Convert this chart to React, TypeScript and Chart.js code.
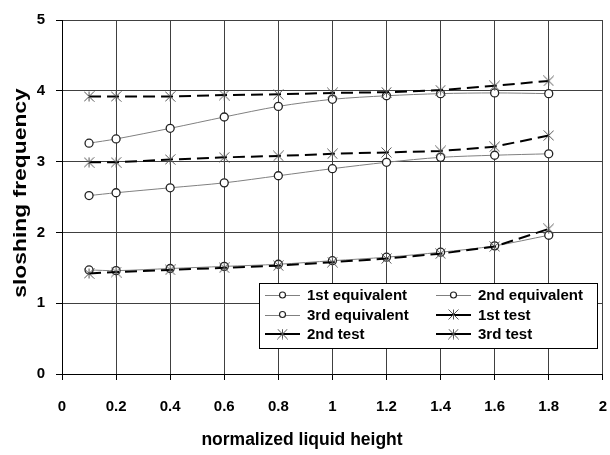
import { useEffect, useRef } from 'react';
import { Chart, registerables } from 'chart.js';
Chart.register(...registerables);

const heights = [0.1, 0.2, 0.4, 0.6, 0.8, 1.0, 1.2, 1.4, 1.6, 1.8];
const equivalent1 = [1.47, 1.46, 1.49, 1.52, 1.55, 1.60, 1.65, 1.72, 1.81, 1.96];
const equivalent2 = [2.52, 2.56, 2.63, 2.70, 2.80, 2.90, 2.99, 3.06, 3.09, 3.11];
const equivalent3 = [3.26, 3.32, 3.47, 3.63, 3.78, 3.88, 3.93, 3.96, 3.97, 3.96];
const test1 = [1.42, 1.44, 1.47, 1.50, 1.53, 1.58, 1.63, 1.70, 1.80, 2.05];
const test2 = [2.99, 2.99, 3.03, 3.06, 3.08, 3.11, 3.13, 3.15, 3.21, 3.37];
const test3 = [3.92, 3.92, 3.92, 3.94, 3.95, 3.97, 3.98, 4.01, 4.07, 4.14];
const seriesLabels = ['1st equivalent', '2nd equivalent', '3rd equivalent', '1st test', '2nd test', '3rd test'];
const xTickValues = [0, 0.2, 0.4, 0.6, 0.8, 1, 1.2, 1.4, 1.6, 1.8, 2];
const yTickValues = [0, 1, 2, 3, 4, 5];
const xTitle = 'normalized liquid height';
const yTitle = 'sloshing frequency';

const FONT = '"Liberation Sans", Arial, sans-serif';

function makeStar(color: string, size: number) {
  const c = document.createElement('canvas');
  c.width = size;
  c.height = size;
  const g = c.getContext('2d')!;
  g.strokeStyle = color;
  g.lineWidth = 1;
  const m = size / 2;
  const r = size / 2 - 0.5;
  g.beginPath();
  g.moveTo(m, m - r);
  g.lineTo(m, m + r);
  g.moveTo(m - r, m - r);
  g.lineTo(m + r, m + r);
  g.moveTo(m + r, m - r);
  g.lineTo(m - r, m + r);
  g.stroke();
  return c;
}

function toPoints(ys: number[]) {
  return heights.map((x, i) => ({ x, y: ys[i] }));
}

export default function App() {
  const ref = useRef<HTMLCanvasElement>(null);

  useEffect(() => {
    document.body.style.margin = '0';
    document.body.style.overflow = 'hidden';
    const canvas = ref.current!;
    const star = makeStar('#555', 11);

    const eqStyle = (ys: number[], label: string) => ({
      label,
      data: toPoints(ys),
      borderColor: '#808080',
      borderWidth: 1,
      tension: 0.3,
      pointStyle: 'circle' as const,
      pointRadius: 4,
      pointBorderWidth: 1.3,
      pointBorderColor: '#222',
      pointBackgroundColor: '#fff',
      order: 2,
    });
    const testStyle = (ys: number[], label: string) => ({
      label,
      data: toPoints(ys),
      borderColor: '#000',
      borderWidth: 2,
      borderDash: [12, 6],
      tension: 0,
      pointStyle: star as any,
      pointRadius: 5,
      order: 1,
    });

    const datasets = [
      eqStyle(equivalent1, seriesLabels[0]),
      eqStyle(equivalent2, seriesLabels[1]),
      eqStyle(equivalent3, seriesLabels[2]),
      testStyle(test1, seriesLabels[3]),
      testStyle(test2, seriesLabels[4]),
      testStyle(test3, seriesLabels[5]),
    ];

    const legendPlugin = {
      id: 'customLegend',
      afterDraw(chart: any) {
        const ctx = chart.ctx as CanvasRenderingContext2D;
        ctx.save();
        const bx = 259, by = 283, bw = 338, bh = 65;
        ctx.fillStyle = '#fff';
        ctx.fillRect(bx, by, bw, bh);
        ctx.strokeStyle = '#000';
        ctx.lineWidth = 1;
        ctx.strokeRect(bx + 0.5, by + 0.5, bw, bh);
        ctx.font = `bold 15px ${FONT}`;
        ctx.textBaseline = 'middle';
        ctx.textAlign = 'left';
        const ds = chart.data.datasets;
        ds.forEach((d: any, i: number) => {
          const col = i % 2;
          const row = Math.floor(i / 2);
          const cy = 295 + row * 19.5;
          const lx0 = col === 0 ? 265 : 436;
          const lx1 = lx0 + 35;
          ctx.beginPath();
          ctx.setLineDash([]);
          ctx.strokeStyle = d.borderColor;
          ctx.lineWidth = d.borderWidth;
          ctx.moveTo(lx0, Math.round(cy) + (d.borderWidth === 1 ? 0.5 : 0));
          ctx.lineTo(lx1, Math.round(cy) + (d.borderWidth === 1 ? 0.5 : 0));
          ctx.stroke();
          const mx = (lx0 + lx1) / 2;
          if (d.pointStyle === 'circle') {
            ctx.beginPath();
            ctx.arc(mx, cy, 3, 0, Math.PI * 2);
            ctx.fillStyle = '#fff';
            ctx.fill();
            ctx.strokeStyle = '#222';
            ctx.lineWidth = 1.2;
            ctx.stroke();
          } else {
            ctx.drawImage(d.pointStyle, mx - 5.5, cy - 5.5);
          }
          ctx.fillStyle = '#000';
          ctx.fillText(d.label, lx1 + 7, cy + 1);
        });
        // axis titles
        ctx.fillStyle = '#000';
        ctx.font = `bold 17.5px ${FONT}`;
        ctx.textAlign = 'center';
        ctx.textBaseline = 'middle';
        ctx.fillText(xTitle, 302, 440);
        ctx.translate(21, 193);
        ctx.rotate(-Math.PI / 2);
        ctx.scale(1.27, 1);
        ctx.font = `bold 18px ${FONT}`;
        ctx.fillText(yTitle, 0, 0);
        ctx.restore();
      },
    };

    const chart = new Chart(canvas, {
      type: 'line',
      data: { datasets: datasets as any },
      options: {
        animation: false,
        responsive: false,
        devicePixelRatio: 1,
        layout: { padding: { top: 13, right: 17, left: 0, bottom: 0 } },
        plugins: { legend: { display: false }, tooltip: { enabled: false } },
        scales: {
          x: {
            type: 'linear',
            min: 0,
            max: 2,
            afterBuildTicks: (s: any) => {
              s.ticks = xTickValues.map((v) => ({ value: v }));
            },
            afterFit: (s: any) => {
              s.height = 81;
            },
            grid: { color: '#404040', lineWidth: 1, tickLength: 6, tickColor: '#000' },
            border: { color: '#000', width: 1 },
            ticks: {
              color: '#000',
              font: { family: FONT, size: 15, weight: 'bold' },
              padding: 18,
              maxRotation: 0,
              autoSkip: false,
              callback: (v: any) => String(v),
            },
          },
          y: {
            type: 'linear',
            min: 0,
            max: 5,
            afterBuildTicks: (s: any) => {
              s.ticks = yTickValues.map((v) => ({ value: v }));
            },
            afterFit: (s: any) => {
              s.width = 62;
            },
            grid: { color: '#404040', lineWidth: 1, tickLength: 6, tickColor: '#000' },
            border: { color: '#000', width: 1 },
            ticks: {
              color: '#000',
              font: { family: FONT, size: 15, weight: 'bold' },
              padding: 11,
              callback: (v: any) => String(v),
            },
          },
        },
      },
      plugins: [legendPlugin],
    });
    return () => chart.destroy();
  }, []);

  return <canvas ref={ref} width={625} height={455} style={{ display: 'block', width: 625, height: 455 }} />;
}
